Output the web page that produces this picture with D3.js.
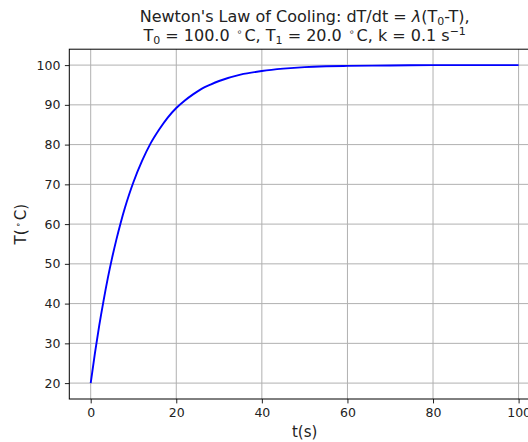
<!DOCTYPE html>
<html>
<head>
<meta charset="utf-8">
<script src="https://cdn.jsdelivr.net/npm/d3@7"></script>
<style>
  html, body { margin: 0; padding: 0; background: #fff; overflow: hidden; }
  svg { display: block; font-family: "DejaVu Sans", sans-serif; }
</style>
</head>
<body>
<svg id="chart" width="528" height="442"></svg>
<script>
// Temperature of a body heating toward the surrounding medium
const times = [0, 1, 2, 3, 4, 5, 6, 7, 8, 9, 10, 12, 14, 16, 18, 20, 22, 24, 26, 28, 30,
               35, 40, 45, 50, 55, 60, 70, 80, 90, 100];
const temps = [20, 27.6, 34.5, 40.7, 46.4, 51.5, 56.1, 60.3, 64.1, 67.5, 70.6, 75.9, 80.3,
               83.8, 86.8, 89.2, 91.1, 92.7, 94.1, 95.1, 96.0, 97.6, 98.5, 99.1, 99.5,
               99.7, 99.8, 99.9, 100, 100, 100];
const xTicks = [0, 20, 40, 60, 80, 100];
const yTicks = [20, 30, 40, 50, 60, 70, 80, 90, 100];

const svg = d3.select("#chart");
const plot = { left: 69.3, right: 540, top: 49.2, bottom: 399 };

const x = d3.scaleLinear().domain([-5, 105]).range([plot.left, plot.right]);
const y = d3.scaleLinear().domain([16, 104]).range([plot.bottom, plot.top]);

const tickColor = "#222";
const gridColor = "#b0b0b0";

// grid
const grid = svg.append("g");
grid.selectAll(".gx").data(xTicks).join("line")
  .attr("x1", d => x(d)).attr("x2", d => x(d))
  .attr("y1", plot.top).attr("y2", plot.bottom)
  .attr("stroke", gridColor).attr("stroke-width", 1);
grid.selectAll(".gy").data(yTicks).join("line")
  .attr("x1", plot.left).attr("x2", plot.right)
  .attr("y1", d => y(d)).attr("y2", d => y(d))
  .attr("stroke", gridColor).attr("stroke-width", 1);

// curve
const line = d3.line()
  .x((d, i) => x(times[i]))
  .y(d => y(d))
  .curve(d3.curveMonotoneX);
svg.append("path")
  .attr("d", line(temps))
  .attr("fill", "none")
  .attr("stroke", "#0000ff")
  .attr("stroke-width", 1.9);

// axes
const xAxis = d3.axisBottom(x).tickValues(xTicks).tickSize(4.4).tickPadding(4.5).tickFormat(d3.format("d"));
const yAxis = d3.axisLeft(y).tickValues(yTicks).tickSize(4.4).tickPadding(4.5).tickFormat(d3.format("d"));

const gx = svg.append("g").attr("transform", `translate(0,${plot.bottom})`).call(xAxis);
const gy = svg.append("g").attr("transform", `translate(${plot.left},0)`).call(yAxis);
[gx, gy].forEach(g => {
  g.select(".domain").remove();
  g.selectAll(".tick line").attr("stroke", tickColor).attr("stroke-width", 1);
  g.selectAll(".tick text").attr("fill", tickColor)
    .style("font-family", "DejaVu Sans").style("font-size", "12.5px");
});

// frame
svg.append("rect")
  .attr("x", plot.left).attr("y", plot.top)
  .attr("width", plot.right - plot.left).attr("height", plot.bottom - plot.top)
  .attr("fill", "none").attr("stroke", "#000").attr("stroke-width", 1);

// axis labels
svg.append("text")
  .attr("x", (plot.left + plot.right) / 2).attr("y", 437)
  .attr("text-anchor", "middle").attr("font-size", 15).attr("fill", "#222")
  .text("t(s)");

const yl = svg.append("text")
  .attr("transform", `translate(26,${(plot.top + plot.bottom) / 2}) rotate(-90)`)
  .attr("text-anchor", "middle").attr("font-size", 15).attr("fill", "#222");
yl.append("tspan").text("T(");
yl.append("tspan").attr("font-size", 9).attr("dy", -5.5).text("\u2009\u2218\u2009");
yl.append("tspan").attr("dy", 5.5).text("C)");

// title
const cx = (plot.left + plot.right) / 2;
const fs = 16, sub = 11;
const t1 = svg.append("text")
  .attr("x", cx).attr("y", 22).attr("text-anchor", "middle")
  .attr("font-size", fs).attr("fill", "#222");
t1.append("tspan").text("Newton's Law of Cooling: dT/dt = ");
t1.append("tspan").attr("font-style", "italic").text("\u03bb");
t1.append("tspan").text("(T");
t1.append("tspan").attr("font-size", sub).attr("dy", 2.5).text("0");
t1.append("tspan").attr("dy", -2.5).text("-T),");

const t2 = svg.append("text")
  .attr("x", cx).attr("y", 41).attr("text-anchor", "middle")
  .attr("font-size", fs).attr("fill", "#222");
t2.append("tspan").text("T");
t2.append("tspan").attr("font-size", sub).attr("dy", 2.5).text("0");
t2.append("tspan").attr("dy", -2.5).text(" = 100.0 ");
t2.append("tspan").attr("font-size", 9.5).attr("dy", -6).text("\u2009\u2218\u2009");
t2.append("tspan").attr("dy", 6).text("C, T");
t2.append("tspan").attr("font-size", sub).attr("dy", 2.5).text("1");
t2.append("tspan").attr("dy", -2.5).text(" = 20.0 ");
t2.append("tspan").attr("font-size", 9.5).attr("dy", -6).text("\u2009\u2218\u2009");
t2.append("tspan").attr("dy", 6).text("C, k = 0.1 s");
t2.append("tspan").attr("font-size", sub).attr("dy", -6.5).text("\u22121");
</script>
</body>
</html>
